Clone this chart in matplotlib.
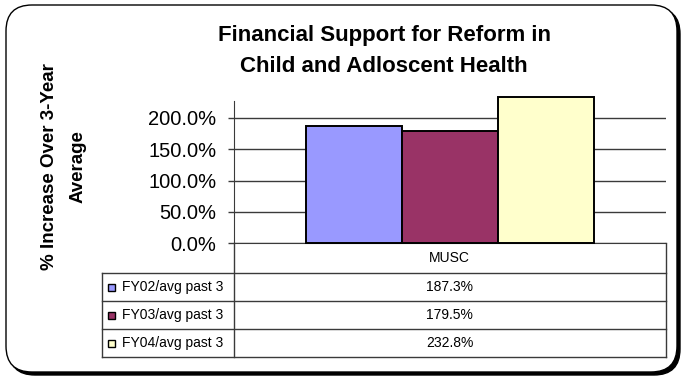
import matplotlib.pyplot as plt
from matplotlib.patches import FancyBboxPatch, Rectangle

# chart data
categories = ['MUSC']
series = ['FY02/avg past 3', 'FY03/avg past 3', 'FY04/avg past 3']
values = [1.873, 1.795, 2.328]
colors = ['#9999FF', '#993366', '#FFFFCC']
yticks = [0.0, 0.5, 1.0, 1.5, 2.0]
title = 'Financial Support for Reform in\nChild and Adloscent Health'
ylabel = '% Increase Over 3-Year\nAverage'

plt.rcParams['font.family'] = ['Liberation Sans', 'DejaVu Sans']

W, H = 683, 379
fig = plt.figure(figsize=(W / 100, H / 100), dpi=100)

# background axes in pixel units (y down) for frame and data table
bg = fig.add_axes([0, 0, 1, 1])
bg.set_xlim(0, W)
bg.set_ylim(H, 0)
bg.axis('off')

shadow = FancyBboxPatch((9, 8), 671, 367, boxstyle='round,pad=0,rounding_size=26',
                        fc='black', ec='black', lw=1)
frame = FancyBboxPatch((6, 5), 671, 367, boxstyle='round,pad=0,rounding_size=26',
                       fc='white', ec='black', lw=1)
bg.add_patch(shadow)
bg.add_patch(frame)

# plot area geometry (pixels)
x_left, x_right = 233.7, 665.7
y_zero, y_top = 243.3, 97.0
ax = fig.add_axes([x_left / W, (H - y_zero) / H,
                   (x_right - x_left) / W, (y_zero - y_top) / H])
ax.set_facecolor('none')

line_col = '#3a3a3a'
n = len(series)
bar_w = 1 / (n * 1.5)
for i, (name, v, c) in enumerate(zip(series, values, colors)):
    ax.bar((i - (n - 1) / 2) * bar_w, v, width=bar_w, color=c,
           edgecolor='black', linewidth=1.4, zorder=3, clip_on=False)

ax.set_xlim(-0.5, 0.5)
ax.set_ylim(0, 2.33)
ax.set_xticks([])
ax.set_yticks(yticks)
ax.set_yticklabels([f'{t * 100:.1f}%' for t in yticks], fontsize=14.5)
ax.tick_params(axis='y', direction='out', length=4.3, width=1, color=line_col, pad=8)
ax.yaxis.grid(True, color=line_col, linewidth=1, zorder=0)
ax.set_axisbelow(True)
for s in ['top', 'right']:
    ax.spines[s].set_visible(False)
ax.spines['left'].set_bounds(0, 2.26)
ax.spines['left'].set_color(line_col)
ax.spines['bottom'].set_color(line_col)

fig.text(384 / W, 1 - 51 / H, title, ha='center', va='center',
         fontsize=16, fontweight='bold', linespacing=1.6)
fig.text(64 / W, 1 - 167 / H, ylabel, ha='center', va='center', rotation=90,
         fontsize=13.5, fontweight='bold', linespacing=1.85)

# data table below the plot
t_left = 101.7
row_edges = [273.3, 301.3, 329.3, 357.3]
bg.plot([x_left, x_left], [y_zero, row_edges[-1]], color=line_col, lw=1)
bg.plot([x_right, x_right], [y_zero, row_edges[-1]], color=line_col, lw=1)
bg.plot([t_left, t_left], [row_edges[0], row_edges[-1]], color=line_col, lw=1)
for ye in row_edges:
    bg.plot([t_left, x_right], [ye, ye], color=line_col, lw=1)

x_mid = (x_left + x_right) / 2
bg.text(x_mid, (y_zero + row_edges[0]) / 2, categories[0], ha='center', va='center',
        fontsize=10)
for i, (name, v, c) in enumerate(zip(series, values, colors)):
    yc = (row_edges[i] + row_edges[i + 1]) / 2
    bg.add_patch(Rectangle((108, yc - 3.5), 7, 7, fc=c, ec='black', lw=1))
    bg.text(121.5, yc, name, ha='left', va='center', fontsize=10)
    bg.text(x_mid, yc, f'{v * 100:.1f}%', ha='center', va='center', fontsize=10)

fig.savefig('out.png', dpi=100)
